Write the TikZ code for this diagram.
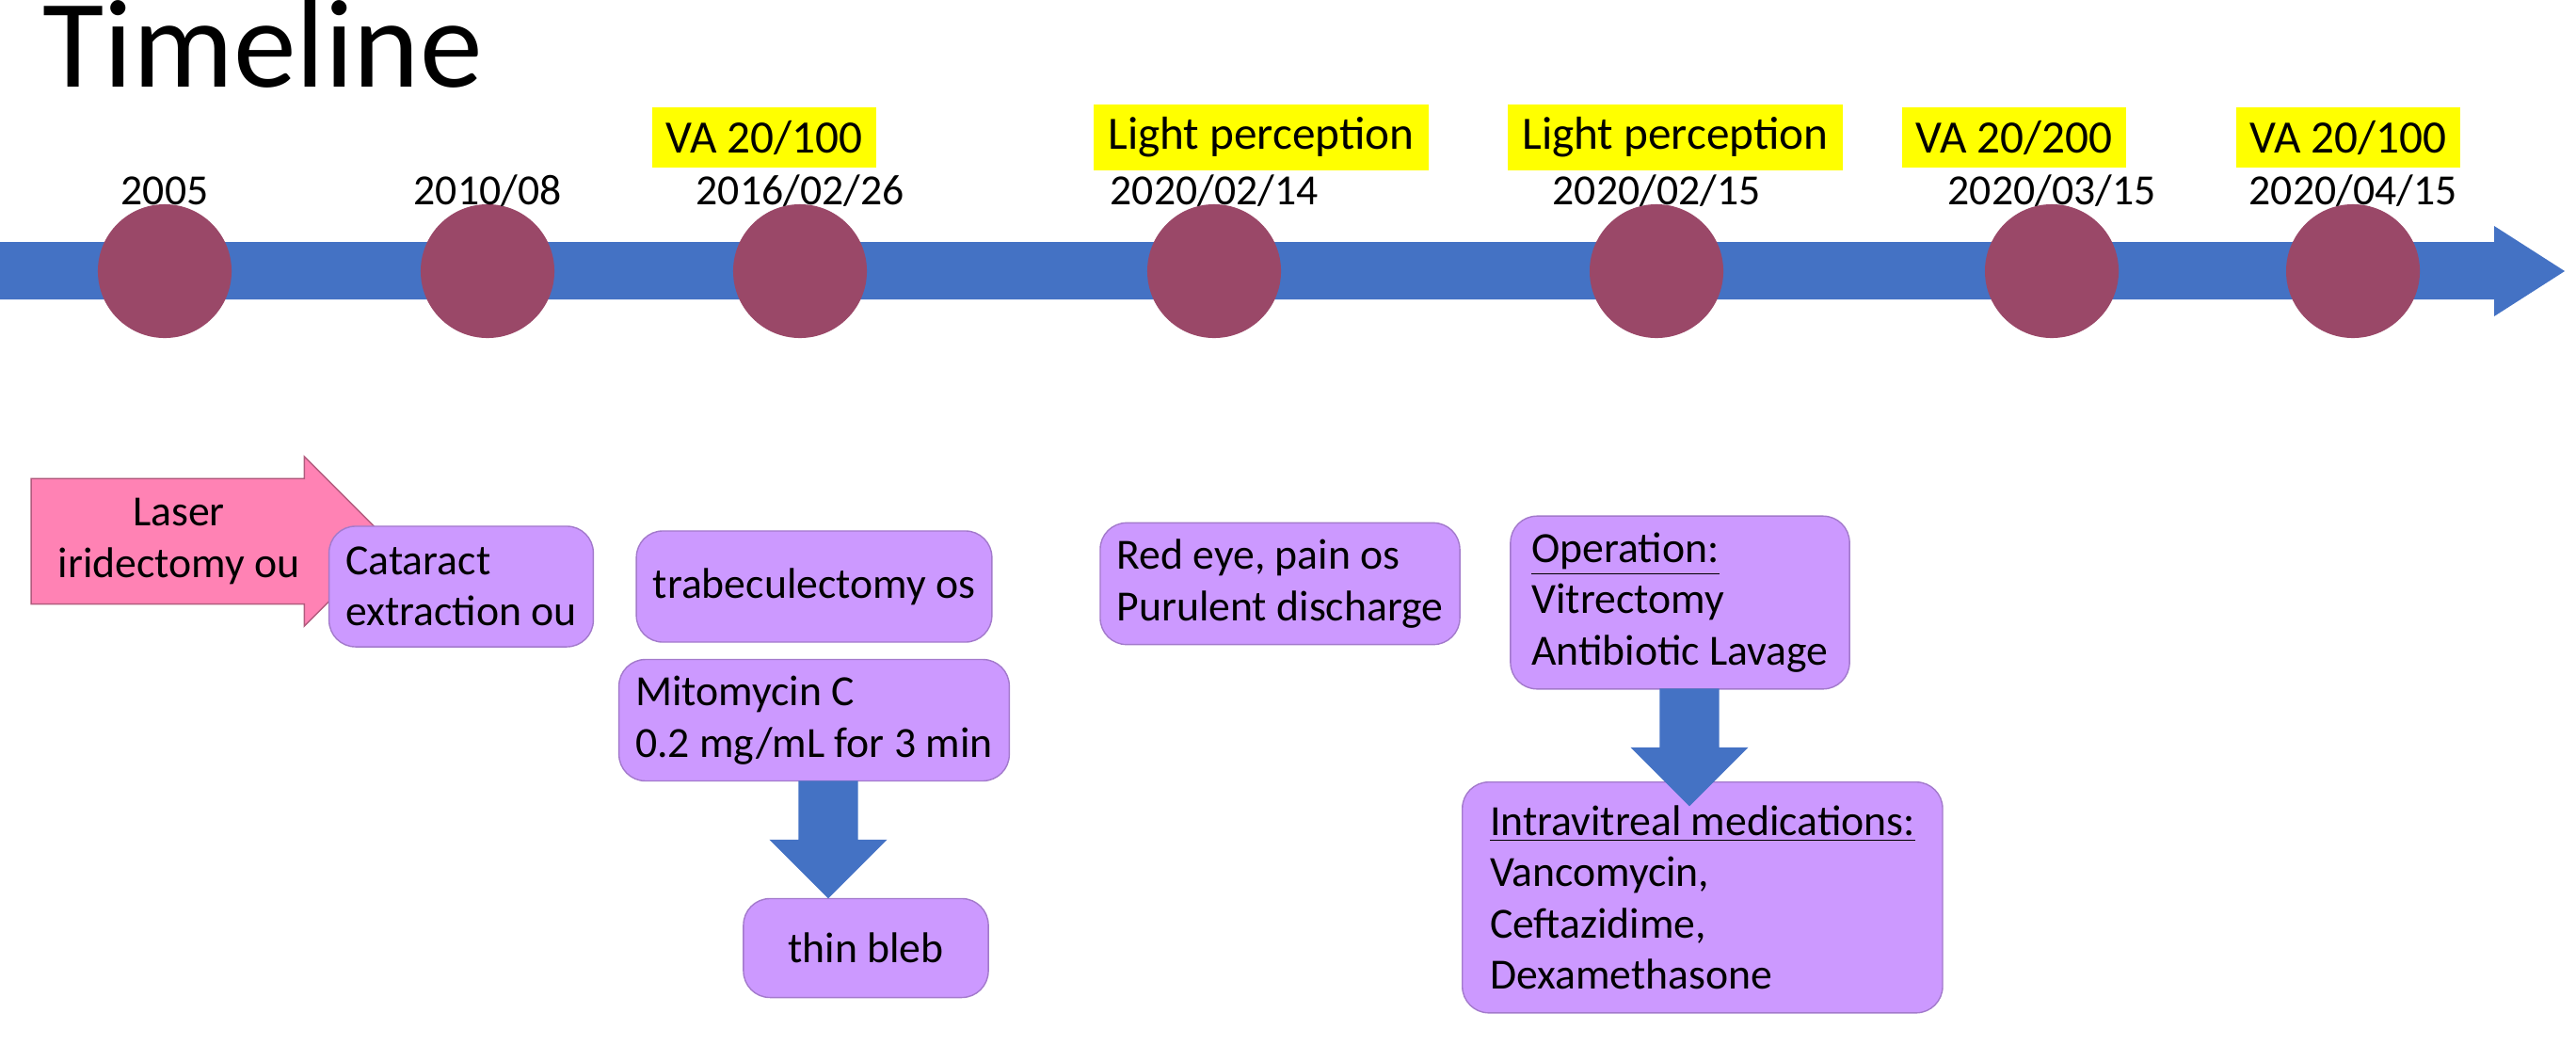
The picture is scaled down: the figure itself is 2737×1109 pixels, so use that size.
\documentclass[tikz,border=0pt]{standalone}
\usepackage{fontspec}
\setmainfont{Carlito}
\usetikzlibrary{shapes.arrows, positioning}

\definecolor{barblue}{RGB}{68,114,196}
\definecolor{dotred}{RGB}{154,72,104}
\definecolor{boxpurple}{RGB}{204,153,255}
\definecolor{vayellow}{RGB}{255,255,0}
\definecolor{laserpink}{RGB}{255,130,180}

\tikzset{
  event/.style={rounded corners=8pt, fill=boxpurple, draw=boxpurple!80!black, line width=0.4pt,
    font=\fontsize{13}{15.5}\selectfont, align=left, inner sep=5pt},
  visus/.style={fill=vayellow, font=\fontsize{14}{16}\selectfont, inner sep=4pt, minimum height=0.55cm},
  dot/.style={circle, fill=dotred, minimum size=1.42cm, inner sep=0pt},
  datum/.style={font=\fontsize{13}{15}\selectfont},
  down/.style={single arrow, fill=barblue, draw=none, shape border rotate=270,
    minimum height=1.25cm, minimum width=1.25cm, single arrow head extend=0.3cm, inner sep=0.3cm}
}

\begin{document}
\begin{tikzpicture}[x=0.01cm, y=-0.01cm]
  \useasboundingbox (0,0) rectangle (2737,1109);
  \node[anchor=base west, font=\fontsize{38}{42}\selectfont, inner sep=0pt] (title) at (45,92) {Timeline};

  % the time axis
  \fill[barblue] (0,257) -- (2650,257) -- (2650,240) -- (2725,288) -- (2650,336) -- (2650,318) -- (0,318) -- cycle;

  % events on the axis
  \foreach \x/\d [count=\k] in {175/2005, 518/2010\slash 08, 850/2016\slash 02\slash 26, 1290/2020\slash 02\slash 14,
      1760/2020\slash 02\slash 15, 2180/2020\slash 03\slash 15, 2500/2020\slash 04\slash 15} {
    \node[dot] (p\k) at (\x,288) {};
    \node[datum] (d\k) at (\x,203) {\d};
  }

  % visual acuity
  \node[visus, minimum width=2.15cm] (v3) at (812,146) {VA 20/100};
  \node[visus, minimum width=3.55cm] (v4) at (1340,146) {Light perception};
  \node[visus, minimum width=3.55cm] (v5) at (1780,146) {Light perception};
  \node[visus, minimum width=2.05cm] (v6) at (2140,146) {VA 20/200};
  \node[visus, minimum width=2.05cm] (v7) at (2495,146) {VA 20/100};

  % findings and treatment
  \node[single arrow, fill=laserpink, draw=laserpink!70!black, minimum width=1.8cm, minimum height=3.8cm,
    single arrow head extend=0.2cm, font=\fontsize{13}{15.5}\selectfont, align=center, inner sep=3pt] (e1) at (190,575)
    {Laser\\iridectomy ou\hspace{0.7cm}};
  \node[event, minimum width=2.3cm, minimum height=1.28cm] (e2) at (490,623) {Cataract\\extraction ou};
  \node[event, minimum width=3.05cm, minimum height=1.18cm] (e3) at (865,623) {trabeculectomy os};
  \node[event, minimum width=3.05cm, minimum height=0.95cm] (e3b) at (865,765) {Mitomycin C\\0.2 mg/mL for 3 min};
  \node[event, minimum width=2.6cm, minimum height=1.05cm, align=center] (e3c) at (920,1007) {thin bleb};
  \node[event, minimum width=3.2cm, minimum height=1.2cm] (e4) at (1360,620) {Red eye, pain os\\Purulent discharge};
  \node[event, minimum width=3.6cm, minimum height=1.7cm] (e5) at (1785,640) {\underline{Operation:}\\Vitrectomy\\Antibiotic Lavage};
  \node[event, minimum width=5.1cm, minimum height=2.45cm, anchor=north west] (e5b) at (1553,830)
    {\underline{Intravitreal medications:}\\Vancomycin,\\Ceftazidime,\\Dexamethasone};

  \node[down] (a3) at (880,876) {};
  \node[down] (a5) at (1795,778) {};
\end{tikzpicture}
\end{document}
